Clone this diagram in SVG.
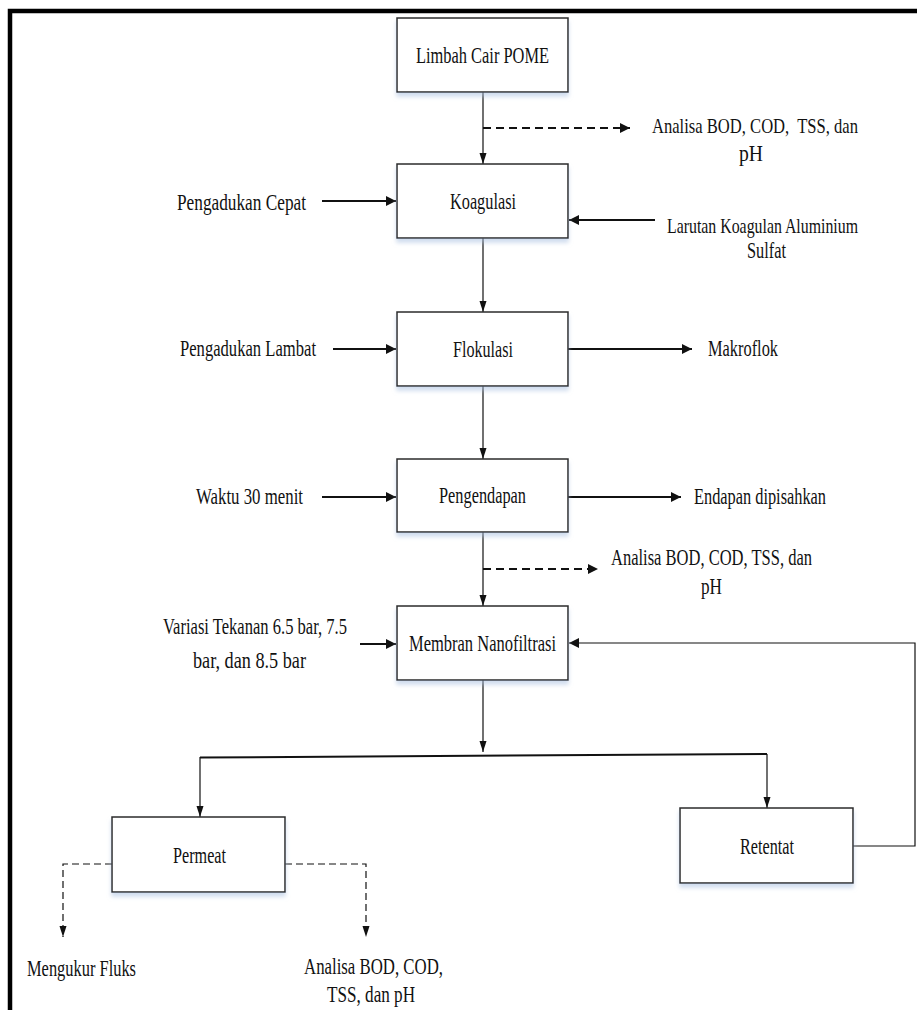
<svg xmlns="http://www.w3.org/2000/svg" width="917" height="1010" viewBox="0 0 917 1010">
<style>
  .box { fill: #ffffff; stroke: #2a2a2a; stroke-width: 1.5; filter: url(#sh); }
  .t { font-family: "Liberation Serif", "DejaVu Serif", serif; font-size: 24px; fill: #111; text-anchor: middle; }
  .tw { font-size: 21px; }
  .thin { fill: none; stroke: #111; stroke-width: 1.2; }
  .thick { fill: none; stroke: #111; stroke-width: 2; }
  .dash2 { fill: none; stroke: #111; stroke-width: 2; stroke-dasharray: 8 5; }
  .dash1 { fill: none; stroke: #111; stroke-width: 1.2; stroke-dasharray: 7 4; }
</style>
<defs>
  <filter id="sh" x="-10%" y="-10%" width="120%" height="130%">
    <feDropShadow dx="0" dy="4" stdDeviation="2" flood-color="#a9bfe0" flood-opacity="0.55"/>
  </filter>
  <marker id="ah" markerUnits="userSpaceOnUse" markerWidth="12" markerHeight="12" viewBox="0 0 12 12" refX="11" refY="6" orient="auto">
    <path d="M1,1 L11,6 L1,11 Z" fill="#111"/>
  </marker>
  <marker id="ahs" markerUnits="userSpaceOnUse" markerWidth="12" markerHeight="10" viewBox="0 0 12 10" refX="11" refY="5" orient="auto">
    <path d="M0,1.5 L11,5 L0,8.5 Z" fill="#111"/>
  </marker>
</defs>

<path d="M10,1015 V11 H925" fill="none" stroke="#000" stroke-width="4.5"/>

<g id="connectors">
  <path class="thin" d="M483,92 V164" marker-end="url(#ahs)"/>
  <path class="dash2" d="M483,128 H630" marker-end="url(#ah)"/>
  <path class="thick" d="M322,201 H396" marker-end="url(#ah)"/>
  <path class="thick" d="M655,220 H569" marker-end="url(#ah)"/>
  <path class="thin" d="M483,238 V312" marker-end="url(#ahs)"/>
  <path class="thick" d="M333,349 H396" marker-end="url(#ah)"/>
  <path class="thick" d="M568,349 H692" marker-end="url(#ah)"/>
  <path class="thin" d="M483,386 V459" marker-end="url(#ahs)"/>
  <path class="thick" d="M322,497 H396" marker-end="url(#ah)"/>
  <path class="thick" d="M568,497 H681" marker-end="url(#ah)"/>
  <path class="dash2" d="M483,569 H598" marker-end="url(#ah)"/>
  <path class="thin" d="M483,532 V606" marker-end="url(#ahs)"/>
  <path class="thick" d="M360,644 H396" marker-end="url(#ah)"/>
  <path class="thin" d="M853,846 H915 V643 H569" stroke-width="1.5" marker-end="url(#ah)"/>
  <path class="thin" d="M483,680 V752" marker-end="url(#ahs)"/>
  <path class="thick" d="M200,757.5 L767,754"/>
  <path class="thin" d="M200,757 V817" marker-end="url(#ahs)"/>
  <path class="thin" d="M767,754 V808" marker-end="url(#ahs)"/>
  <path class="dash1" d="M112,864 H63 V937" marker-end="url(#ahs)"/>
  <path class="dash1" d="M285,864 H366 V937" marker-end="url(#ahs)"/>
</g>

<g id="node-limbah">
  <rect class="box" x="397" y="18" width="171" height="74"/>
  <text class="t" x="482.5" y="63" textLength="133" lengthAdjust="spacingAndGlyphs">Limbah Cair POME</text>
</g>
<g id="node-koagulasi">
  <rect class="box" x="397" y="164" width="171" height="74"/>
  <text class="t" x="483" y="209" textLength="66" lengthAdjust="spacingAndGlyphs">Koagulasi</text>
</g>
<g id="node-flokulasi">
  <rect class="box" x="397" y="312" width="171" height="74"/>
  <text class="t" x="483" y="357" textLength="60" lengthAdjust="spacingAndGlyphs">Flokulasi</text>
</g>
<g id="node-pengendapan">
  <rect class="box" x="397" y="459" width="171" height="73"/>
  <text class="t" x="482.5" y="503" textLength="87" lengthAdjust="spacingAndGlyphs">Pengendapan</text>
</g>
<g id="node-membran">
  <rect class="box" x="397" y="606" width="171" height="74"/>
  <text class="t" x="482.5" y="651" textLength="147" lengthAdjust="spacingAndGlyphs">Membran Nanofiltrasi</text>
</g>
<g id="node-permeat">
  <rect class="box" x="112" y="817" width="173" height="75"/>
  <text class="t" x="199.5" y="863" textLength="53" lengthAdjust="spacingAndGlyphs">Permeat</text>
</g>
<g id="node-retentat">
  <rect class="box" x="680" y="808" width="173" height="75"/>
  <text class="t" x="767" y="854" textLength="54" lengthAdjust="spacingAndGlyphs">Retentat</text>
</g>

<g id="labels">
  <text class="t tw" x="755" y="133" textLength="206" lengthAdjust="spacingAndGlyphs" xml:space="preserve">Analisa BOD, COD,  TSS, dan</text>
  <text class="t" x="751" y="161" textLength="24" lengthAdjust="spacingAndGlyphs">pH</text>
  <text class="t" x="241.5" y="210" textLength="129" lengthAdjust="spacingAndGlyphs">Pengadukan Cepat</text>
  <text class="t tw" x="762.5" y="233" textLength="191" lengthAdjust="spacingAndGlyphs">Larutan Koagulan Aluminium</text>
  <text class="t" x="766.5" y="258" textLength="39" lengthAdjust="spacingAndGlyphs">Sulfat</text>
  <text class="t" x="248" y="356" textLength="136" lengthAdjust="spacingAndGlyphs">Pengadukan Lambat</text>
  <text class="t" x="743" y="356" textLength="70" lengthAdjust="spacingAndGlyphs">Makroflok</text>
  <text class="t" x="249.5" y="504" textLength="107" lengthAdjust="spacingAndGlyphs">Waktu 30 menit</text>
  <text class="t" x="760" y="504" textLength="132" lengthAdjust="spacingAndGlyphs">Endapan dipisahkan</text>
  <text class="t" x="711.5" y="565" textLength="201" lengthAdjust="spacingAndGlyphs">Analisa BOD, COD, TSS, dan</text>
  <text class="t" x="711.5" y="594" textLength="21" lengthAdjust="spacingAndGlyphs">pH</text>
  <text class="t" x="255" y="634" textLength="184" lengthAdjust="spacingAndGlyphs">Variasi Tekanan 6.5 bar, 7.5</text>
  <text class="t" x="249.5" y="668" textLength="113" lengthAdjust="spacingAndGlyphs">bar, dan 8.5 bar</text>
  <text class="t" x="81.5" y="976" textLength="109" lengthAdjust="spacingAndGlyphs">Mengukur Fluks</text>
  <text class="t" x="373.5" y="974" textLength="139" lengthAdjust="spacingAndGlyphs">Analisa BOD, COD,</text>
  <text class="t" x="371" y="1002" textLength="88" lengthAdjust="spacingAndGlyphs">TSS, dan pH</text>
</g>
</svg>
